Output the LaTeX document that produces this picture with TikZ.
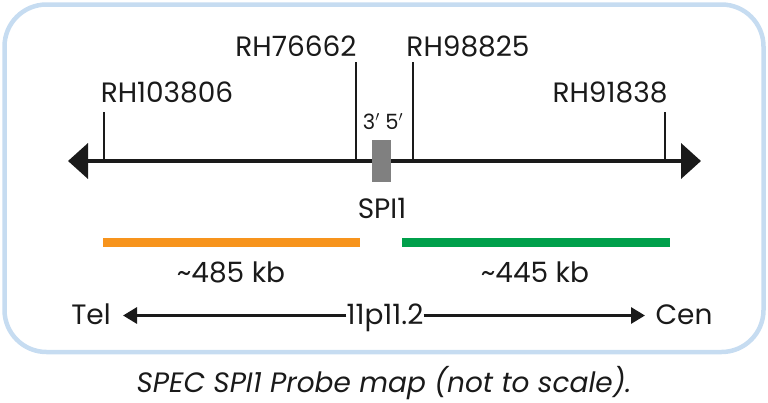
\documentclass[tikz,border=0pt]{standalone}
\usepackage{fontspec}
\setmainfont{Poppins}
\usetikzlibrary{arrows.meta}

\definecolor{framebl}{HTML}{C6DCF1}
\definecolor{probeor}{HTML}{F7941D}
\definecolor{probegr}{HTML}{00A04B}
\definecolor{probegy}{HTML}{808080}
\definecolor{ink}{HTML}{1A1A1A}

\tikzset{
  lbl/.style={inner sep=0pt,text=ink,font=\fontsize{28}{32}\selectfont},
  small/.style={inner sep=0pt,text=ink,font=\fontsize{21}{24}\selectfont},
  marker/.style={draw=ink,line width=2pt},
  axis/.style={draw=ink,line width=4pt,{Triangle[length=20pt,width=35pt]}-{Triangle[length=20pt,width=35pt]}},
  probebar/.style={line width=9pt},
  bandarrow/.style={draw=ink,line width=3pt,-{Triangle[length=14pt,width=16pt]}}
}

\begin{document}
\begin{tikzpicture}[x=1pt,y=-1pt]
\useasboundingbox (0,0) rectangle (768,402);
% frame
\draw[framebl,line width=4.5pt,rounded corners=42pt] (4.5,4.5) rectangle (763.5,352);

% chromosome axis
\coordinate (axl) at (68,161);
\coordinate (axr) at (701,161);
\draw[axis] (axl) -- (axr);

% markers
\node[lbl,anchor=base] (rh103806) at (167,102) {RH103806};
\node[lbl,anchor=base] (rh76662) at (296,56) {RH76662};
\node[lbl,anchor=base] (rh98825) at (468,56) {RH98825};
\node[lbl,anchor=base] (rh91838) at (610,102) {RH91838};
\coordinate (m1) at (104,112); \coordinate (m1b) at (104,161);
\coordinate (m2) at (356,62);  \coordinate (m2b) at (356,161);
\coordinate (m3) at (413,62);  \coordinate (m3b) at (413,161);
\coordinate (m4) at (665,112); \coordinate (m4b) at (665,161);
\draw[marker] (m1) -- (m1b);
\draw[marker] (m2) -- (m2b);
\draw[marker] (m3) -- (m3b);
\draw[marker] (m4) -- (m4b);

% SPI1 gene
\node[small,anchor=base] (ends) at (383,129) {3$'$ 5$'$};
\node[fill=probegy,inner sep=0pt,minimum width=19pt,minimum height=42pt] (spi1box) at (381.5,161) {};
\node[lbl,anchor=base] (spi1) at (382,218) {SPI1};

% probes
\coordinate (or1) at (103,242.5); \coordinate (or2) at (360,242.5);
\coordinate (gr1) at (402,242.5); \coordinate (gr2) at (670,242.5);
\draw[probebar,probeor] (or1) -- (or2);
\draw[probebar,probegr] (gr1) -- (gr2);
\node[lbl,anchor=base] (kb485) at (231,282) {\textasciitilde 485 kb};
\node[lbl,anchor=base] (kb445) at (535,282) {\textasciitilde 445 kb};

% band
\node[lbl,anchor=base] (band) at (385,324) {11p11.2};
\node[lbl,anchor=base] (tel) at (91,324) {Tel};
\node[lbl,anchor=base] (cen) at (684,324) {Cen};
\coordinate (telend) at (123,315.5);
\coordinate (cenend) at (645,315.5);
\draw[bandarrow] (band.west |- telend) -- (telend);
\draw[bandarrow] (band.east |- cenend) -- (cenend);

% caption
\node[lbl,anchor=base,font=\fontsize{28}{32}\selectfont\itshape] (caption) at (384,392) {SPEC SPI1 Probe map (not to scale).};
\end{tikzpicture}
\end{document}
